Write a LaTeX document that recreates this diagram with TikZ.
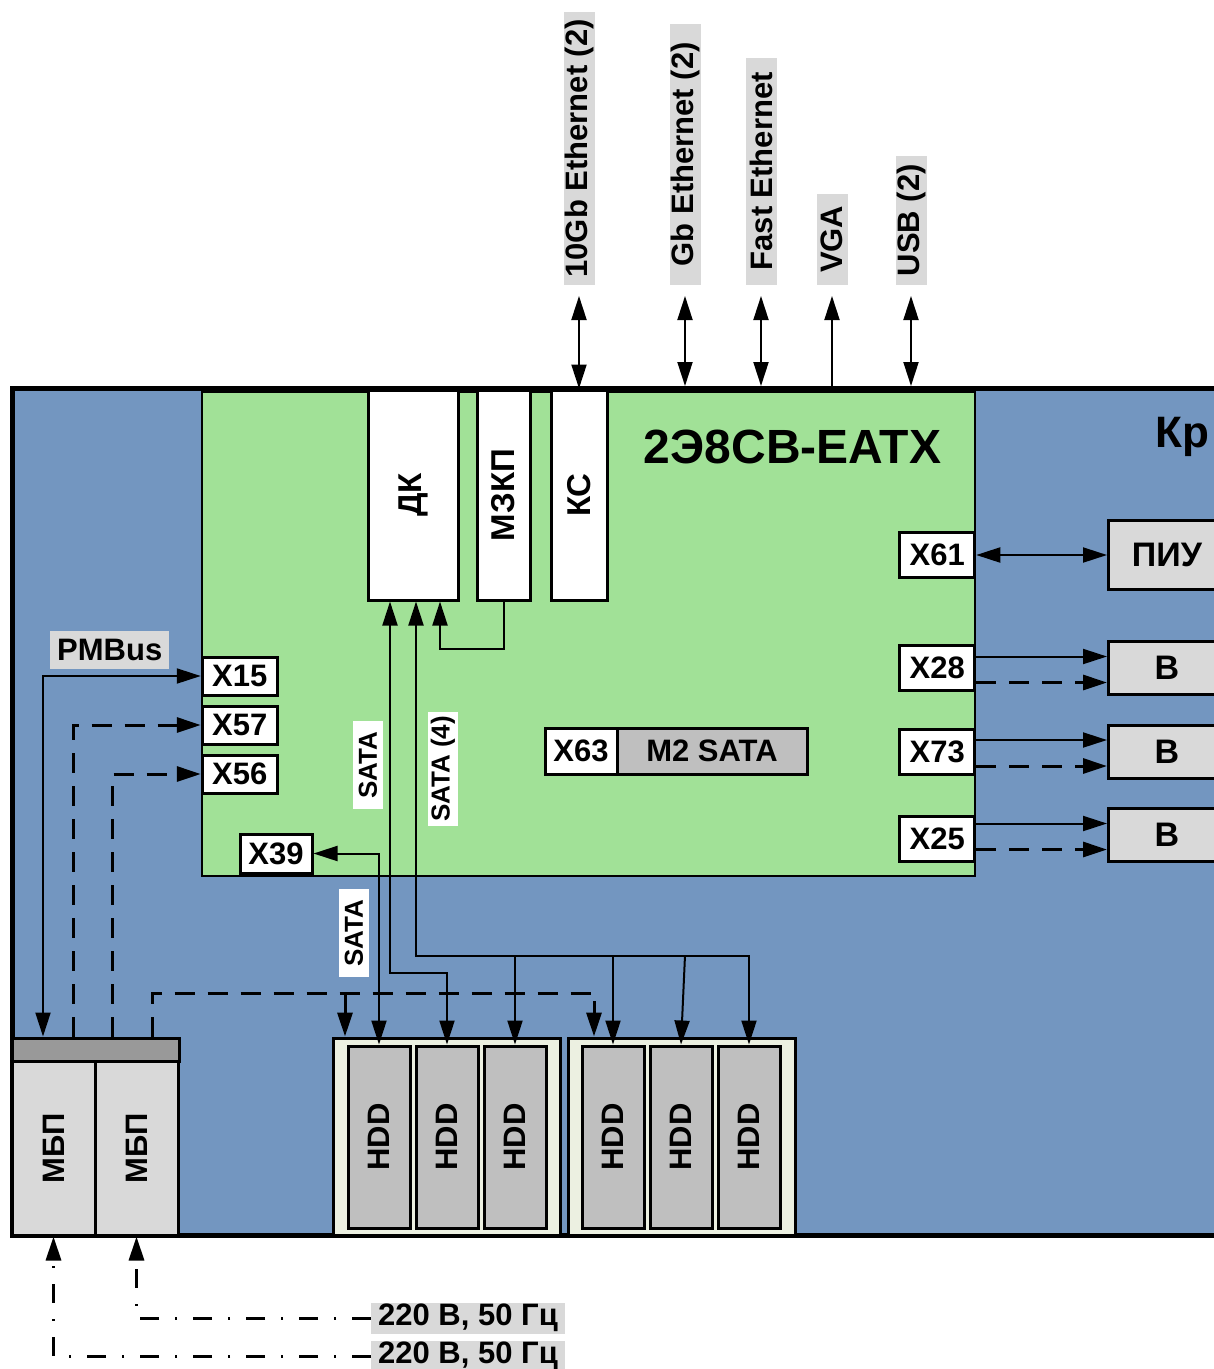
\documentclass[tikz,border=0pt]{standalone}
\usepackage{fontspec}
\setmainfont{Liberation Sans}
\usepackage{graphicx}
\usetikzlibrary{positioning, arrows.meta}
\definecolor{chassisColor}{RGB}{115,150,192}
\definecolor{boardColor}{RGB}{161,225,151}
\definecolor{labelColor}{RGB}{217,217,217}
\definecolor{hddColor}{RGB}{191,191,191}
\definecolor{cageColor}{RGB}{236,240,225}
\definecolor{capColor}{RGB}{153,153,153}
\newcommand{\textFont}{\fontsize{31}{31}\selectfont\bfseries}
\newcommand{\moduleFont}{\fontsize{33}{33}\selectfont\bfseries}
\newcommand{\deviceFont}{\fontsize{34}{34}\selectfont\bfseries}
\newcommand{\sataFont}{\fontsize{26}{26}\selectfont\bfseries}
\newcommand{\titleFont}{\fontsize{48}{48}\selectfont\bfseries}
\newcommand{\chassisFont}{\fontsize{44}{44}\selectfont\bfseries}
\newcommand{\up}[1]{\rotatebox{90}{#1}}
\tikzstyle{pixels} = [x=1pt, y=-1pt, >={Triangle[length=24pt, width=15pt]}]
\tikzstyle{chassisStyle} = [draw, fill=chassisColor, line width=5pt, inner sep=0pt]
\tikzstyle{boardStyle} = [draw, fill=boardColor, line width=2.5pt, inner sep=0pt]
\tikzstyle{moduleStyle} = [draw, fill=white, line width=3pt, inner sep=0pt, minimum height=210pt, anchor=north west, font=\moduleFont]
\tikzstyle{connStyle} = [draw, fill=white, line width=3pt, inner sep=0pt, minimum width=75pt, font=\textFont]
\tikzstyle{deviceStyle} = [draw, fill=labelColor, line width=3pt, inner sep=0pt, minimum width=117pt, minimum height=53pt, anchor=west, font=\deviceFont]
\tikzstyle{tagStyle} = [fill=labelColor, inner xsep=7pt, inner ysep=0pt, minimum height=31pt, anchor=west, font=\textFont]
\tikzstyle{portTag} = [fill=labelColor, inner xsep=0pt, inner ysep=4pt, minimum width=31pt, anchor=south, font=\textFont]
\tikzstyle{sataTag} = [fill=white, inner xsep=0pt, inner ysep=4pt, minimum width=30pt, font=\sataFont]
\tikzstyle{cageStyle} = [draw, fill=cageColor, line width=3pt, inner sep=0pt, minimum width=227pt, minimum height=197pt]
\tikzstyle{hddStyle} = [draw, fill=hddColor, line width=3pt, inner sep=0pt, minimum width=62pt, minimum height=182pt, font=\textFont]
\tikzstyle{psuStyle} = [draw, fill=labelColor, line width=3pt, inner sep=0pt, minimum width=83pt, minimum height=174pt, font=\textFont]
\tikzstyle{sigLine} = [line width=2pt]
\tikzstyle{dashLine} = [line width=3pt, dash pattern=on 20pt off 13pt]
\tikzstyle{dropLine} = [line width=3pt]
\tikzstyle{mainsLine} = [line width=3pt, dash pattern=on 19pt off 16pt on 2pt off 16pt]
\newcommand{\hdd}[2]{\node [hddStyle] (#1) at (#2, 1137) {\up{HDD}};}
\newcommand{\driveLinks}[2]{
  \path ([yshift=11.5pt]#2.west) coordinate (sigEnd);
  \path ([yshift=-14.5pt]#2.west) coordinate (pwrEnd);
  \draw [sigLine, ->] (sigEnd -| #1.east) -- (sigEnd);
  \draw [dashLine, ->] (pwrEnd -| #1.east) -- (pwrEnd);
}
\begin{document}
\begin{tikzpicture}[pixels]
  \useasboundingbox (0,0) rectangle (1214,1369);
  \node [chassisStyle, anchor=north west, minimum width=1240pt, minimum height=846.5pt] (chassis) at (10,386) {};
  \node [anchor=base west, inner sep=0pt, font=\chassisFont] (chassisTitle) at (1155,447) {Кр};
  \node [boardStyle, anchor=north west, minimum width=773pt, minimum height=484pt] (board) at (200.75,390.75) {};
  \node [anchor=base, inner sep=0pt, font=\titleFont] (boardTitle) at (792.5,463) {2Э8СВ-EATX};

  \node [moduleStyle, minimum width=90pt] (dk) at (366.5,388.5) {\up{ДК}};
  \node [moduleStyle, minimum width=53pt] (mzkp) at (475.5,388.5) {\up{МЗКП}};
  \node [moduleStyle, minimum width=56pt] (ks) at (549.5,388.5) {\up{КС}};

  \node [connStyle, minimum height=45pt, anchor=east] (x61) at (board.east |- 0,555) {X61};
  \node [connStyle, minimum height=45pt, anchor=east] (x28) at (board.east |- 0,668) {X28};
  \node [connStyle, minimum height=45pt, anchor=east] (x73) at (board.east |- 0,751.5) {X73};
  \node [connStyle, minimum height=45pt, anchor=east] (x25) at (board.east |- 0,838.5) {X25};
  \node [connStyle, minimum height=38pt, anchor=west] (x15) at (board.west |- 0,676) {X15};
  \node [connStyle, minimum height=38pt, anchor=west] (x57) at (board.west |- 0,725) {X57};
  \node [connStyle, minimum height=38pt, anchor=west] (x56) at (board.west |- 0,774) {X56};
  \node [connStyle, minimum height=39pt, minimum width=72pt, anchor=west] (x39) at (238.5,853.5) {X39};
  \node [connStyle, minimum height=46pt, minimum width=72pt, anchor=west] (x63) at (543.5,751) {X63};
  \node [connStyle, minimum height=46pt, minimum width=190pt, fill=hddColor, right=-3pt of x63] (m2) {M2 SATA};

  \node [deviceStyle, minimum height=69pt] (piu) at (1107,555) {ПИУ};
  \node [deviceStyle] (b1) at (1107,668) {В};
  \node [deviceStyle] (b2) at (1107,751.5) {В};
  \node [deviceStyle] (b3) at (1107,835) {В};

  \node [draw, fill=capColor, line width=3pt, inner sep=0pt, minimum width=167pt, minimum height=23pt, anchor=north west] (psuCap) at (10.5,1036.5) {};
  \node [psuStyle, anchor=north west] (psuA) at (10.5,1059.5) {\up{МБП}};
  \node [psuStyle, right=-3pt of psuA] (psuB) {\up{МБП}};

  \node [cageStyle, anchor=north west] (cageA) at (331.5,1036.5) {};
  \node [cageStyle, right=5pt of cageA] (cageB) {};
  \foreach \name/\x in {hdd1/379, hdd2/447, hdd3/515, hdd4/613, hdd5/681, hdd6/749} {
    \hdd{\name}{\x}
  }

  \node [portTag, minimum height=273pt] (tenGbTag) at (579,285) {\up{10Gb Ethernet (2)}};
  \node [portTag, minimum height=261pt] (gbTag) at (685,285) {\up{Gb Ethernet (2)}};
  \node [portTag, minimum height=227pt] (fastTag) at (761,285) {\up{Fast Ethernet}};
  \node [portTag, minimum height=91pt] (vgaTag) at (832,285) {\up{VGA}};
  \node [portTag, minimum height=129pt] (usbTag) at (911,285) {\up{USB (2)}};

  \node [tagStyle, minimum height=38pt] (pmbusTag) at (50,650) {PMBus};
  \node [tagStyle] (mainsB) at (371,1318) {220 В, 50 Гц};
  \node [tagStyle] (mainsA) at (371,1356) {220 В, 50 Гц};

  \draw [sigLine, <->, shorten <=11pt] (tenGbTag.south) -- (ks.north);
  \draw [sigLine, <->, shorten <=11pt] (gbTag.south) -- (gbTag.south |- chassis.north);
  \draw [sigLine, <->, shorten <=11pt] (fastTag.south) -- (fastTag.south |- chassis.north);
  \draw [sigLine, ->, shorten >=11pt] (vgaTag.south |- chassis.north) -- (vgaTag.south);
  \draw [sigLine, <->, shorten <=11pt] (usbTag.south) -- (usbTag.south |- chassis.north);

  \draw [sigLine, <->] (x61.east) -- (piu.west);
  \driveLinks{x28}{b1}
  \driveLinks{x73}{b2}
  \driveLinks{x25}{b3}

  \draw [sigLine, ->] (mzkp.south) -- ++(0,47) -| ([xshift=27pt]dk.south);
  \draw [sigLine, <->] ([xshift=-23pt]dk.south) -- ++(0,371) -| (hdd2.north);
  \draw [sigLine, <->] ([xshift=3pt]dk.south) -- ++(0,354) coordinate (sataBus) -| (hdd6.north);
  \foreach \d in {hdd3, hdd4} {
    \draw [sigLine, ->] (sataBus -| \d.north) -- (\d.north);
  }
  \path (sataBus -| hdd5.north) coordinate (hddTap);
  \draw [sigLine, ->] ([xshift=4pt]hddTap) -- (hdd5.north);
  \draw [sigLine, <->] (x39.east) -| (hdd1.north);

  \draw [sigLine, <->] (x15.west) -| (43,0 |- psuCap.north);
  \draw [dashLine, ->] (73,0 |- psuCap.north) |- (x57.west);
  \draw [dashLine, ->] (112,0 |- psuCap.north) |- (x56.west);
  \coordinate (powerBus) at (594,993);
  \draw [dashLine] (152,0 |- psuCap.north) |- (powerBus);
  \draw [dropLine, ->] (345,0 |- powerBus) -- (345,0 |- cageA.north);
  \draw [dropLine, ->] ([yshift=-8pt]powerBus) -- (powerBus |- cageB.north);

  \node [sataTag, minimum height=88pt] (sataTagA) at (368,765) {\up{SATA}};
  \node [sataTag] (sataTagB) at (443,769) {\up{SATA (4)}};
  \node [sataTag, minimum height=88pt] (sataTagC) at (354,933) {\up{SATA}};

  \draw [mainsLine, ->] (mainsB.west) -| (psuB.south);
  \draw [mainsLine, ->] (mainsA.west) -| (psuA.south);
\end{tikzpicture}
\end{document}
